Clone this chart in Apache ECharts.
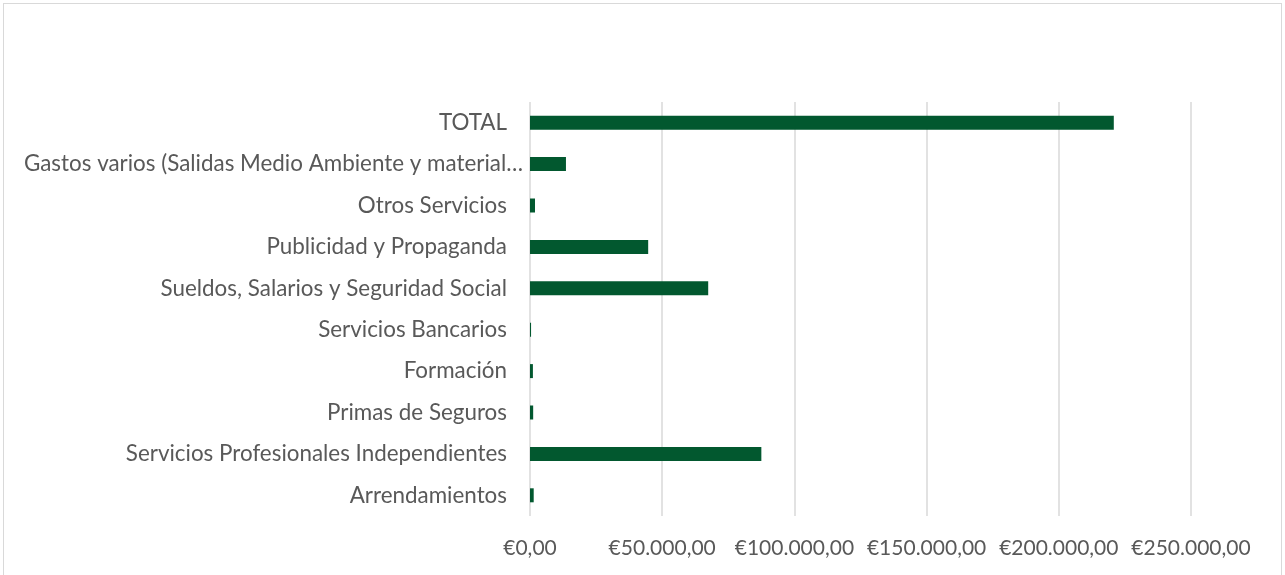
<!DOCTYPE html>
<html lang="es">
<head>
    <meta charset="UTF-8">
    <title>Gastos</title>
    <script src="https://cdn.jsdelivr.net/npm/echarts/dist/echarts.min.js"></script>
    <style>
        html, body { margin: 0; padding: 0; background: #fff; }
        #frame {
            position: absolute; left: 3px; top: 3px; width: 1279px; height: 580px;
            border: 1px solid #d9d9d9; box-sizing: border-box;
        }
        #chart { position: absolute; left: 0; top: 0; width: 1285px; height: 575px; }
    </style>
</head>
<body>
    <div id="frame"></div>
    <div id="chart"></div>
    <script>
        // categories bottom -> top (category axis draws first item at the bottom)
        const categories = [
            'Arrendamientos',
            'Servicios Profesionales Independientes',
            'Primas de Seguros',
            'Formación',
            'Servicios Bancarios',
            'Sueldos, Salarios y Seguridad Social',
            'Publicidad y Propaganda',
            'Otros Servicios',
            'Gastos varios (Salidas Medio Ambiente y material…',
            'TOTAL'
        ];
        const amounts = [1400, 87500, 1200, 1100, 400, 67400, 44700, 1900, 13600, 220800];

        function euro(v) {
            const s = Math.round(v).toString().replace(/\B(?=(\d{3})+(?!\d))/g, '.');
            return '€' + s + ',00';
        }

        // the truncated label sits a bit closer to the axis, like in the original
        const yData = categories.map(c => c.endsWith('…')
            ? { value: c, textStyle: { padding: [0, -16, 0, 0] } }
            : c);

        const chart = echarts.init(document.getElementById('chart'));
        chart.setOption({
            animation: false,
            grid: { left: 530, right: 94, top: 102, bottom: 59, containLabel: false },
            xAxis: {
                type: 'value',
                min: 0,
                max: 250000,
                interval: 50000,
                axisLine: { show: false },
                axisTick: { show: false },
                splitLine: { show: true, lineStyle: { color: '#d9d9d9', width: 1.5 } },
                axisLabel: {
                    formatter: euro,
                    color: '#595959',
                    fontFamily: 'Lato',
                    fontSize: 21,
                    margin: 22
                }
            },
            yAxis: {
                type: 'category',
                data: yData,
                axisLine: { show: false },
                axisTick: { show: false },
                axisLabel: {
                    color: '#595959',
                    fontFamily: 'Lato',
                    fontSize: 22.4,
                    margin: 23
                }
            },
            series: [{
                type: 'bar',
                data: amounts,
                barWidth: 14,
                itemStyle: { color: '#02582f' }
            }]
        });
    </script>
</body>
</html>
